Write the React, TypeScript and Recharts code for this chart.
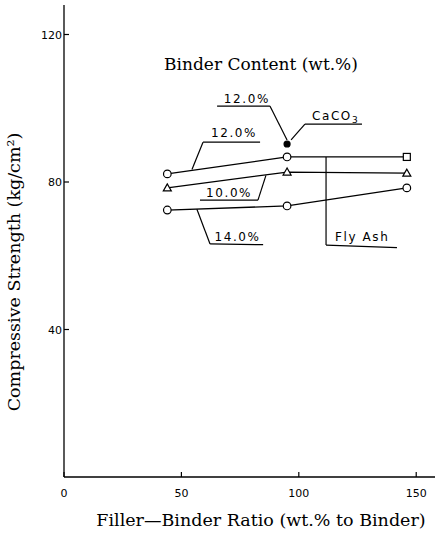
import { LineChart, Line, XAxis, YAxis, ReferenceLine, ReferenceDot } from "recharts";

// filler-binder ratio (wt.% to binder)
const ratio = [44, 95, 146];

// compressive strength (kg/cm2), fly ash filler
const flyAsh12 = [82.2, 86.8, 86.8];
const flyAsh10 = [78.4, 82.7, 82.4];
const flyAsh14 = [72.4, 73.5, 78.4];

// CaCO3 filler, 12.0 % binder
const caco3Ratio = [95];
const caco3Strength = [90.3];

const xTicks = [0, 50, 100, 150];
const yTicks = [40, 80, 120];

// marker shape per point
const flyAsh12Marks = ["circle", "circle", "square"];
const flyAsh10Marks = ["triangle", "triangle", "triangle"];
const flyAsh14Marks = ["circle", "circle", "circle"];

// leader lines for the callouts (data coords)
const leaders = [
  [[65.2, 100.6], [87.7, 100.6], [95, 91.4]],
  [[96.7, 91.4], [102.6, 95.7], [126.9, 95.7]],
  [[54.5, 83.4], [59.2, 90.8], [83.5, 90.8]],
  [[57.9, 75.1], [82.6, 75.1], [86, 81.8]],
  [[56.6, 72.6], [62.2, 63.2], [84.8, 63.0]],
  [[111.6, 86.8], [111.6, 62.9], [141.8, 62.2]],
];

const callouts = [
  { text: "12.0%", x: 77.9, y: 101.4, anchor: "middle" },
  { text: "CaCO", sub: "3", x: 105.6, y: 96.9, anchor: "start" },
  { text: "12.0%", x: 72.4, y: 92.2, anchor: "middle" },
  { text: "10.0%", x: 70.3, y: 75.8, anchor: "middle" },
  { text: "14.0%", x: 73.9, y: 64.1, anchor: "middle" },
  { text: "Fly Ash", x: 115.4, y: 64.0, anchor: "start" },
];

const toPoints = (xs: number[], ys: number[]) => xs.map((x, i) => ({ x, y: ys[i] }));

const SANS = "DejaVu Sans";
const SERIF = "DejaVu Serif";

function marker(shapes: string[], filled = false) {
  return (p: any) => {
    const { cx, cy, index } = p;
    const kind = shapes[index] || "circle";
    const fill = filled ? "#000" : "#fff";
    if (kind === "square") {
      return <rect key={index} x={cx - 3.5} y={cy - 3.5} width={7} height={7} fill={fill} stroke="#000" strokeWidth={1.2} />;
    }
    if (kind === "triangle") {
      return (
        <polygon
          key={index}
          points={`${cx},${cy - 4} ${cx - 4},${cy + 3} ${cx + 4},${cy + 3}`}
          fill={fill}
          stroke="#000"
          strokeWidth={1.2}
        />
      );
    }
    return <circle key={index} cx={cx} cy={cy} r={filled ? 3 : 3.8} fill={fill} stroke="#000" strokeWidth={1.2} />;
  };
}

const XTick = ({ x, y, payload }: any) => (
  <g>
    <line x1={x} x2={x} y1={y} y2={y - 5} stroke="#000" strokeWidth={1.2} />
    <text x={x} y={y + 20} textAnchor="middle" fontFamily={SANS} fontSize={11} fill="#000">
      {payload.value}
    </text>
  </g>
);

const YTick = ({ x, y, payload }: any) => (
  <g>
    <line x1={x} x2={x + 5} y1={y} y2={y} stroke="#000" strokeWidth={1.2} />
    <text x={x - 2} y={y + 4} textAnchor="end" fontFamily={SANS} fontSize={11} fill="#000">
      {payload.value}
    </text>
  </g>
);

export default function App() {
  return (
    <div style={{ position: "absolute", left: 0, top: 0, width: 439, height: 538, background: "#fff" }}>
      <LineChart width={439} height={538} margin={{ top: 5, right: 4, bottom: 31, left: 0 }}>
        <XAxis
          type="number"
          dataKey="x"
          domain={[0, 158]}
          ticks={xTicks}
          allowDataOverflow
          stroke="#000"
          strokeWidth={1.3}
          tickLine={false}
          tickSize={0}
          tickMargin={0}
          height={30}
          tick={<XTick />}
        />
        <YAxis
          type="number"
          domain={[0, 128]}
          ticks={yTicks}
          allowDataOverflow
          stroke="#000"
          strokeWidth={1.3}
          tickLine={false}
          tickSize={0}
          tickMargin={0}
          width={64}
          tick={<YTick />}
        />
        {leaders.map((pts, i) =>
          pts.slice(1).map((p, j) => (
            <ReferenceLine
              key={`l${i}-${j}`}
              segment={[
                { x: pts[j][0], y: pts[j][1] },
                { x: p[0], y: p[1] },
              ]}
              stroke="#000"
              strokeWidth={1.2}
            />
          ))
        )}
        {callouts.map((c, i) => (
          <ReferenceDot
            key={`c${i}`}
            x={c.x}
            y={c.y}
            r={0}
            shape={(p: any) => (
              <text
                x={p.cx}
                y={p.cy}
                textAnchor={c.anchor}
                fontFamily={SANS}
                fontSize={12}
                letterSpacing={1.6}
                fill="#000"
              >
                {c.text}
                {c.sub ? (
                  <tspan dy={3} fontSize={9}>
                    {c.sub}
                  </tspan>
                ) : null}
              </text>
            )}
          />
        ))}
        <Line
          data={toPoints(ratio, flyAsh12)}
          dataKey="y"
          stroke="#000"
          strokeWidth={1.3}
          dot={marker(flyAsh12Marks)}
          isAnimationActive={false}
        />
        <Line
          data={toPoints(ratio, flyAsh10)}
          dataKey="y"
          stroke="#000"
          strokeWidth={1.3}
          dot={marker(flyAsh10Marks)}
          isAnimationActive={false}
        />
        <Line
          data={toPoints(ratio, flyAsh14)}
          dataKey="y"
          stroke="#000"
          strokeWidth={1.3}
          dot={marker(flyAsh14Marks)}
          isAnimationActive={false}
        />
        <Line
          data={toPoints(caco3Ratio, caco3Strength)}
          dataKey="y"
          stroke="#000"
          dot={marker(["circle"], true)}
          isAnimationActive={false}
        />
      </LineChart>
      <svg width={439} height={538} style={{ position: "absolute", left: 0, top: 0, pointerEvents: "none" }}>
        <text x={261} y={70} textAnchor="middle" fontFamily={SERIF} fontSize={17} fill="#000">
          Binder Content (wt.%)
        </text>
        <text x={261} y={526} textAnchor="middle" fontFamily={SERIF} fontSize={17.5} fill="#000">
          Filler—Binder Ratio (wt.% to Binder)
        </text>
        <text
          x={20}
          y={272}
          textAnchor="middle"
          fontFamily={SERIF}
          fontSize={17.5}
          fill="#000"
          transform="rotate(-90 20 272)"
        >
          Compressive Strength (kg/cm²)
        </text>
      </svg>
    </div>
  );
}
